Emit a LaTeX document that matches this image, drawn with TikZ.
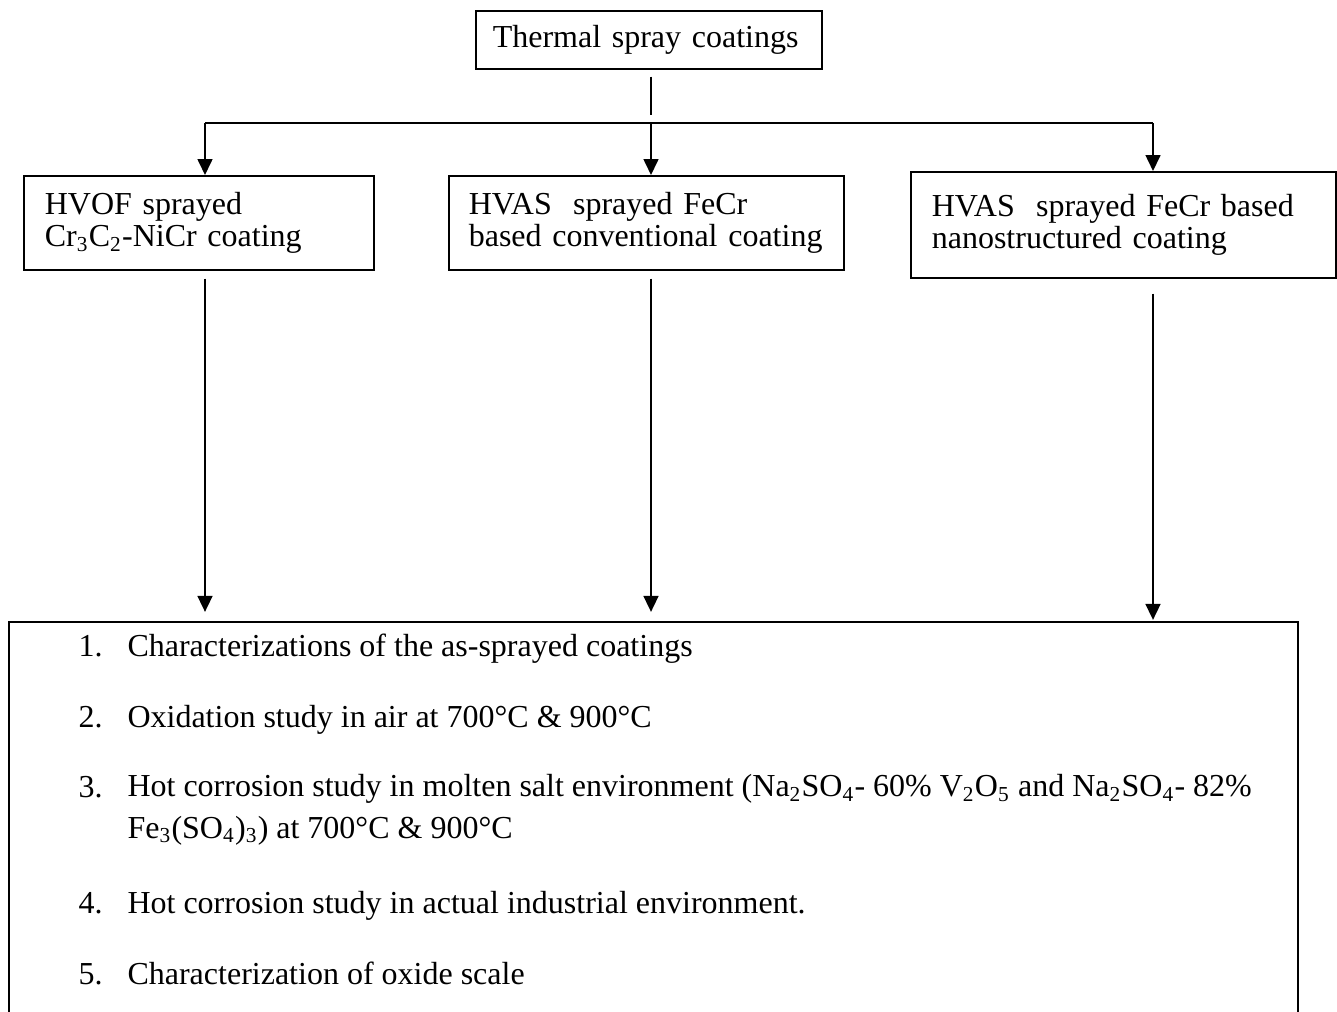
\documentclass[tikz,border=0pt]{standalone}
\usepackage{fontspec}
\setmainfont{Liberation Serif}
\usetikzlibrary{arrows.meta, positioning}

\begin{document}
\begin{tikzpicture}[
    x=0.375pt, y=-0.375pt,
    >={Triangle[length=6pt, width=5.6pt]},
    box/.style={draw, line width=0.6pt, align=left, anchor=north west,
                font=\fontsize{12}{12.2}\selectfont, inner ysep=0pt},
    arr/.style={->, line width=0.7pt},
    conn/.style={line width=0.7pt},
    num/.style={anchor=base west, inner sep=0pt, font=\fontsize{12}{15.4}\selectfont},
    task/.style={anchor=base west, inner sep=0pt, align=left,
                 font=\fontsize{12}{15.4}\selectfont},
]
\useasboundingbox (0,0) rectangle (1337,1011);
% ---- Coating boxes ----
\node[box, text width=117pt, inner xsep=6.375pt, minimum height=21.75pt] (top) at (475,10)
    {Thermal spray coatings};
\node[box, text width=115.5pt, inner xsep=7.875pt, minimum height=35.25pt] (hvof) at (23,175)
    {HVOF sprayed\\Cr\textsubscript{3}C\textsubscript{2}-NiCr coating};
\node[box, text width=133.125pt, inner xsep=7.5pt, minimum height=35.25pt] (conv) at (448,175)
    {HVAS~ sprayed FeCr\\based conventional coating};
\node[box, text width=143.625pt, inner xsep=7.875pt, minimum height=39.75pt] (nano) at (910,171)
    {HVAS~ sprayed FeCr based\\nanostructured coating\par\vspace{7pt}};
% ---- Study box (open at the bottom) ----
\node[anchor=north west, minimum width=483pt, minimum height=145.9pt, inner sep=0pt] (tasks) at (9,622) {};
\draw[line width=0.6pt] (tasks.south west) |- (tasks.north east) -- (tasks.south east);
\foreach \n/\y in {1/656, 2/727, 3/797, 4/913, 5/984}
    \node[num] (n\n) at (78,\y) {\n.};
\node[task] (t1) at (127,656) {Characterizations of the as-sprayed coatings};
\node[task] (t2) at (127,727) {Oxidation study in air at 700°C \& 900°C};
% two-line item: base anchor sits on its last line
\node[task] (t3) at (127,838) {Hot corrosion study in molten salt environment
    (Na\textsubscript{2}SO\textsubscript{4}- 60\% V\textsubscript{2}O\textsubscript{5}
    and Na\textsubscript{2}SO\textsubscript{4}- 82\%\\Fe\textsubscript{3}(SO\textsubscript{4})\textsubscript{3})
    at 700°C \& 900°C};
\node[task] (t4) at (127,913) {Hot corrosion study in actual industrial environment.};
\node[task] (t5) at (127,984) {Characterization of oxide scale};

% ---- Branching connectors ----
\coordinate (b1) at (205,123);
\coordinate (b2) at (651,123);
\coordinate (b3) at (1153,123);
\draw[conn, shorten <=2.6pt, shorten >=3pt] (top.south -| b2) -- (b2);
\draw[conn] (b1) -- (b3);
\draw[arr] (b1) -- (b1 |- hvof.north);
\draw[arr] (b2) -- (b2 |- conv.north);
\draw[arr] (b3) -- (b3 |- nano.north);
\draw[arr, shorten <=3pt, shorten >=3.8pt] (hvof.south -| b1) -- (tasks.north -| b1);
\draw[arr, shorten <=3pt, shorten >=3.8pt] (conv.south -| b2) -- (tasks.north -| b2);
\draw[arr, shorten <=5.6pt, shorten >=0.8pt] (nano.south -| b3) -- (tasks.north -| b3);
\end{tikzpicture}
\end{document}
